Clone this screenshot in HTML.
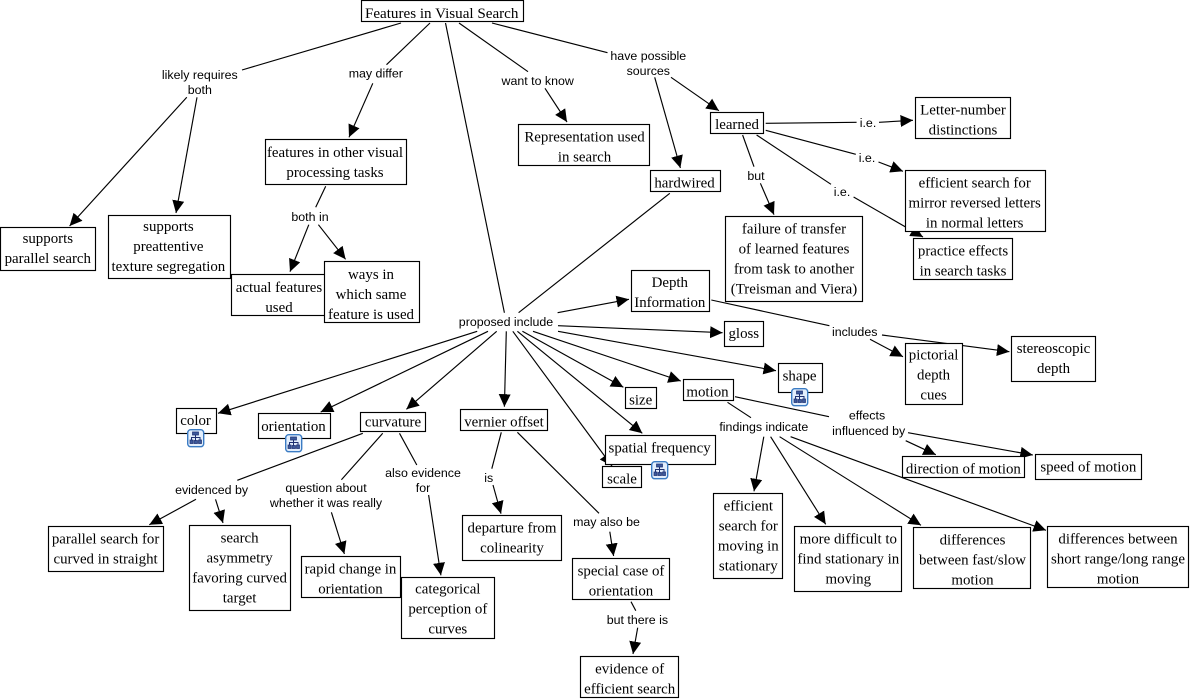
<!DOCTYPE html>
<html><head><meta charset="utf-8"><title>Features in Visual Search</title>
<style>
html,body{margin:0;padding:0;background:#fff;width:1191px;height:700px;overflow:hidden}
svg{display:block}
.l path{fill:none;stroke:#000;stroke-width:1.15}
.a path{fill:none;stroke:#000;stroke-width:1.15;marker-end:url(#ah)}
.b rect{fill:#fff;stroke:#000;stroke-width:1.15}
.n text{font-family:"Liberation Serif",serif;font-size:14.9px;text-anchor:middle;fill:#000}
.t text{font-family:"Liberation Sans",sans-serif;font-size:12.4px;text-anchor:middle;fill:#000}
</style></head><body>
<svg width="1191" height="700" viewBox="0 0 1191 700" xmlns="http://www.w3.org/2000/svg">
<defs>
<marker id="ah" markerUnits="userSpaceOnUse" markerWidth="14" markerHeight="14" refX="12.5" refY="6" orient="auto"><path d="M0,0L12.5,6L0,12z" fill="#000"/></marker>
<g id="ic"><rect x="0.7" y="0.7" width="16" height="17" rx="3" fill="#e2eefc" stroke="#3b7cc4" stroke-width="1.4"/><path d="M5.5,3h6v3h-6zM3,11h3v3.5h-3zM7,11.5h3.5v3h-3.5zM11.5,11h3v3.5h-3z" fill="#3d5a9c" stroke="#1d2f70" stroke-width=".7"/><path d="M8.5,6V11.5M4.5,11V8.5H13V11" fill="none" stroke="#1d2f70" stroke-width="1"/></g>
</defs>

<g class="l">
<path d="M401,23L242,70"/>
<path d="M430,23L386.5,64.7"/>
<path d="M445.5,23L504.4,312.7"/>
<path d="M459,23L528,71.7"/>
<path d="M492,23L607.5,52.7"/>
<path d="M325.7,186.3L315.7,207.3"/>
<path d="M669.8,193.3L518.6,312.7"/>
<path d="M765.7,123.3L856.6,122.3"/>
<path d="M765.7,130.3L855.8,154.3"/>
<path d="M756.6,135L831,184.3"/>
<path d="M742.6,135L754,166.7"/>
<path d="M711.3,300L829.4,325.7"/>
<path d="M727.5,402.3L751,417.7"/>
<path d="M735,396.7L829,416.7"/>
<path d="M362.8,433.3L237.3,480.3"/>
<path d="M382.7,433.3L341.4,479.7"/>
<path d="M399.5,433.3L416.8,465"/>
<path d="M501.3,432.3L491.8,468.7"/>
<path d="M517.4,432.3L599,513.3"/>
<path d="M631,601.7L635.8,610.7"/>
</g>
<g class="a">
<path d="M186.8,97.3L69.6,226"/>
<path d="M197,97.3L176,213"/>
<path d="M372.8,83.3L349,137.3"/>
<path d="M545,88.3L567,122"/>
<path d="M671,77.3L718.9,110.7"/>
<path d="M654.7,77.3L680.4,168"/>
<path d="M308.8,224.7L290,271.7"/>
<path d="M318.4,224.7L345.6,259.3"/>
<path d="M879,122.3L913,120.3"/>
<path d="M878.5,162L903,171.3"/>
<path d="M853.6,197L923,237"/>
<path d="M760.4,183.3L774,214.7"/>
<path d="M557.6,312.7L629,299.3"/>
<path d="M558,325.7L722.6,332.7"/>
<path d="M558,331.3L776,370.7"/>
<path d="M533,331.3L680.8,381"/>
<path d="M522.4,331.3L623.4,387.3"/>
<path d="M517.4,331.3L642.3,433.3"/>
<path d="M512.8,331.3L612,466"/>
<path d="M506.3,331.3L504.4,406.7"/>
<path d="M496.7,331.3L406.4,409.3"/>
<path d="M488,331.3L320.7,412"/>
<path d="M477.2,331.3L218,413.3"/>
<path d="M870,339.3L903,356.7"/>
<path d="M882,335L1009.4,351.7"/>
<path d="M763.8,436.7L754,491.3"/>
<path d="M770.6,436.7L825.7,524.3"/>
<path d="M779.6,436.7L921,525.3"/>
<path d="M790.6,436.7L1046,530.3"/>
<path d="M905.7,440.7L935.8,454.7"/>
<path d="M908,432.7L1032.8,455"/>
<path d="M196,499.3L149.3,524.7"/>
<path d="M215.5,499.3L223,523"/>
<path d="M331.4,512.3L344.4,554"/>
<path d="M428.6,495L440.9,575.3"/>
<path d="M493,485L501,513.7"/>
<path d="M609.8,531.7L613.6,556"/>
<path d="M637.7,627.7L633,654"/>
</g>

<g class="b">
<rect x="361.5" y="0.5" width="162" height="21"/>
<rect x="0.5" y="227.5" width="95" height="43"/>
<rect x="108.5" y="215.5" width="122" height="63"/>
<rect x="265.5" y="139.5" width="141" height="45"/>
<rect x="231.5" y="274.5" width="94" height="41"/>
<rect x="324.5" y="261.5" width="95" height="61"/>
<rect x="518.5" y="124.5" width="131" height="41"/>
<rect x="710.5" y="112.5" width="53" height="21"/>
<rect x="650.5" y="170.5" width="70" height="21"/>
<rect x="915.5" y="97.5" width="95" height="41"/>
<rect x="913.5" y="238.5" width="99" height="41"/>
<rect x="905.5" y="170.5" width="140" height="61"/>
<rect x="725.5" y="216.5" width="137" height="85"/>
<rect x="631.5" y="270.5" width="78" height="41"/>
<rect x="724.5" y="321.5" width="39" height="25"/>
<rect x="1011.5" y="336.5" width="84" height="45"/>
<rect x="905.5" y="343.5" width="57" height="61"/>
<rect x="778.5" y="363.5" width="44" height="29"/>
<rect x="683.5" y="379.5" width="50" height="21"/>
<rect x="625.5" y="387.5" width="31" height="21"/>
<rect x="602.5" y="466.5" width="39" height="21"/>
<rect x="605.5" y="435.5" width="110" height="29"/>
<rect x="176.5" y="408.5" width="40" height="25"/>
<rect x="258.5" y="413.5" width="72" height="25"/>
<rect x="360.5" y="412.5" width="65" height="19"/>
<rect x="460.5" y="409.5" width="87" height="21"/>
<rect x="48.5" y="526.5" width="115" height="45"/>
<rect x="189.5" y="525.5" width="101" height="85"/>
<rect x="301.5" y="556.5" width="99" height="41"/>
<rect x="401.5" y="577.5" width="93" height="61"/>
<rect x="462.5" y="515.5" width="99" height="45"/>
<rect x="572.5" y="558.5" width="97" height="41"/>
<rect x="580.5" y="656.5" width="98" height="41"/>
<rect x="713.5" y="493.5" width="69" height="85"/>
<rect x="794.5" y="526.5" width="107" height="65"/>
<rect x="913.5" y="527.5" width="117" height="61"/>
<rect x="1047.5" y="526.5" width="141" height="61"/>
<rect x="902.5" y="456.5" width="122" height="21"/>
<rect x="1035.5" y="454.5" width="106" height="25"/>
</g>

<use href="#ic" x="187" y="429"/>
<use href="#ic" x="285" y="434"/>
<use href="#ic" x="791" y="388"/>
<use href="#ic" x="651" y="461"/>

<g class="n">
<text x="441.7" y="18" style="font-size:15.1px">Features in Visual Search</text>
<text x="47.8" y="243">supports</text><text x="47.8" y="263">parallel search</text>
<text x="168.4" y="231">supports</text><text x="168.4" y="251">preattentive</text><text x="168.4" y="271">texture segregation</text>
<text x="335" y="157">features in other visual</text><text x="335" y="177">processing tasks</text>
<text x="279" y="292">actual features</text><text x="279" y="312">used</text>
<text x="371" y="279">ways in</text><text x="371" y="299">which same</text><text x="371" y="319">feature is used</text>
<text x="584.5" y="141.7">Representation used</text><text x="584.5" y="161.7">in search</text>
<text x="737" y="129">learned</text>
<text x="684.5" y="187.7">hardwired</text>
<text x="963" y="114.7">Letter-number</text><text x="963" y="134.7">distinctions</text>
<text x="963" y="255.7">practice effects</text><text x="963" y="275.7">in search tasks</text>
<text x="974.7" y="187.7">efficient search for</text><text x="974.7" y="207.7">mirror reversed letters</text><text x="974.7" y="227.7">in normal letters</text>
<text x="794" y="233.3">failure of transfer</text><text x="794" y="253.3">of learned features</text><text x="794" y="273.3">from task to another</text><text x="794" y="293.3">(Treisman and Viera)</text>
<text x="669.8" y="287">Depth</text><text x="669.8" y="307">Information</text>
<text x="743.8" y="338">gloss</text>
<text x="1053.5" y="353">stereoscopic</text><text x="1053.5" y="373">depth</text>
<text x="933.6" y="359.7">pictorial</text><text x="933.6" y="379.7">depth</text><text x="933.6" y="399.7">cues</text>
<text x="195.6" y="425">color</text>
<text x="293.5" y="431">orientation</text>
<text x="393" y="426.3">curvature</text>
<text x="504" y="426.3">vernier offset</text>
<text x="799.6" y="380.7">shape</text>
<text x="707.5" y="396.7">motion</text>
<text x="640.7" y="404.3">size</text>
<text x="659.6" y="452.7">spatial frequency</text>
<text x="622" y="483.7">scale</text>
<text x="105.6" y="543.7">parallel search for</text><text x="105.6" y="563.7">curved in straight</text>
<text x="239.6" y="542.7">search</text><text x="239.6" y="562.7">asymmetry</text><text x="239.6" y="582.7">favoring curved</text><text x="239.6" y="602.7">target</text>
<text x="350.5" y="573.7">rapid change in</text><text x="350.5" y="593.7">orientation</text>
<text x="447.8" y="593.7">categorical</text><text x="447.8" y="613.7">perception of</text><text x="447.8" y="633.7">curves</text>
<text x="512" y="532.7">departure from</text><text x="512" y="552.7">colinearity</text>
<text x="621" y="575.7">special case of</text><text x="621" y="595.7">orientation</text>
<text x="629.7" y="673.3">evidence of</text><text x="629.7" y="693.3">efficient search</text>
<text x="748.3" y="510.7">efficient</text><text x="748.3" y="530.7">search for</text><text x="748.3" y="550.7">moving in</text><text x="748.3" y="570.7">stationary</text>
<text x="848.3" y="543.3">more difficult to</text><text x="848.3" y="563.3">find stationary in</text><text x="848.3" y="583.3">moving</text>
<text x="972.5" y="544.3">differences</text><text x="972.5" y="564.3">between fast/slow</text><text x="972.5" y="584.3">motion</text>
<text x="1118" y="543.3">differences between</text><text x="1118" y="563.3">short range/long range</text><text x="1118" y="583.3">motion</text>
<text x="963.4" y="473.3">direction of motion</text>
<text x="1088.3" y="471.3">speed of motion</text>
</g>

<g class="t">
<text x="199.8" y="79">likely requires</text><text x="199.8" y="94">both</text>
<text x="375.8" y="77.7">may differ</text>
<text x="537.7" y="85">want to know</text>
<text x="648.3" y="60">have possible</text><text x="648.3" y="75">sources</text>
<text x="310" y="221">both in</text>
<text x="506" y="326">proposed include</text>
<text x="868" y="127">i.e.</text>
<text x="867" y="162">i.e.</text>
<text x="842" y="196">i.e.</text>
<text x="756" y="180">but</text>
<text x="854.7" y="336">includes</text>
<text x="211.6" y="494">evidenced by</text>
<text x="326" y="492">question about</text><text x="326" y="507">whether it was really</text>
<text x="423" y="477">also evidence</text><text x="423" y="492">for</text>
<text x="488.7" y="482">is</text>
<text x="606.5" y="526">may also be</text>
<text x="637.4" y="624">but there is</text>
<text x="763.8" y="431">findings indicate</text>
<text x="867" y="419.7">effects</text><text x="868.7" y="435">influenced by</text>
</g>
</svg>
</body></html>
